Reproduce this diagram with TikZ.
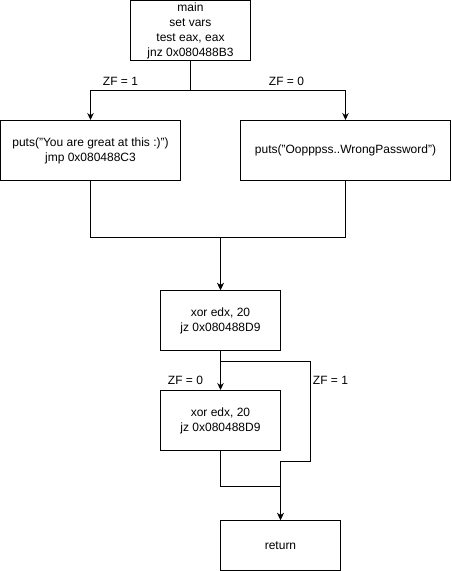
\documentclass[tikz,border=0pt]{standalone}
\usepackage{fontspec}
\setmainfont{Liberation Sans}
\usetikzlibrary{arrows.meta}
\begin{document}
\begin{tikzpicture}[x=1pt,y=-1pt,
  box/.style={draw, line width=1pt, align=center, inner sep=2pt,
    font=\fontsize{12}{15}\selectfont},
  arr/.style={line width=1pt, -{Stealth[length=7pt,width=6.5pt]}},
  lbl/.style={font=\fontsize{12}{15}\selectfont, inner sep=1pt}]
\useasboundingbox (-0.5,-0.5) rectangle (450.5,570.5);
\node[box, minimum width=120pt, minimum height=60pt] (main) at (190,30)
  {main\\set vars\\test eax, eax\\jnz 0x080488B3};
\node[box, minimum width=180pt, minimum height=60pt] (left) at (90,150)
  {puts("You are great at this :)")\\jmp 0x080488C3};
\node[box, minimum width=210pt, minimum height=60pt] (right) at (345,150)
  {puts("Oopppss..WrongPassword")};
\node[box, minimum width=120pt, minimum height=60pt] (xorA) at (220,320)
  {xor edx, 20\\jz 0x080488D9};
\node[box, minimum width=120pt, minimum height=60pt] (xorB) at (220,420)
  {xor edx, 20\\jz 0x080488D9};
\node[box, minimum width=120pt, minimum height=50pt] (ret) at (280,545)
  {return};
\draw[arr] (main.south) -- ++(0,29) -| (left.north);
\draw[arr] (main.south) -- ++(0,29) -| (right.north);
\draw[arr] (left.south) -- ++(0,56) -| (xorA.north);
\draw[arr] (right.south) -- ++(0,56) -| (xorA.north);
\draw[arr] (xorA.south) -- (xorB.north);
\draw[arr] (xorA.south) -- ++(0,10) -- ++(90,0) -- ++(0,100) -- ++(-30,0) -- (ret.north);
\draw[arr] (xorB.south) -- ++(0,35) -| (ret.north);
\node[lbl] (l1) at (120,81) {ZF = 1};
\node[lbl] (l2) at (286,81) {ZF = 0};
\node[lbl] (l3) at (185,380) {ZF = 0};
\node[lbl] (l4) at (330,380) {ZF = 1};
\end{tikzpicture}
\end{document}
